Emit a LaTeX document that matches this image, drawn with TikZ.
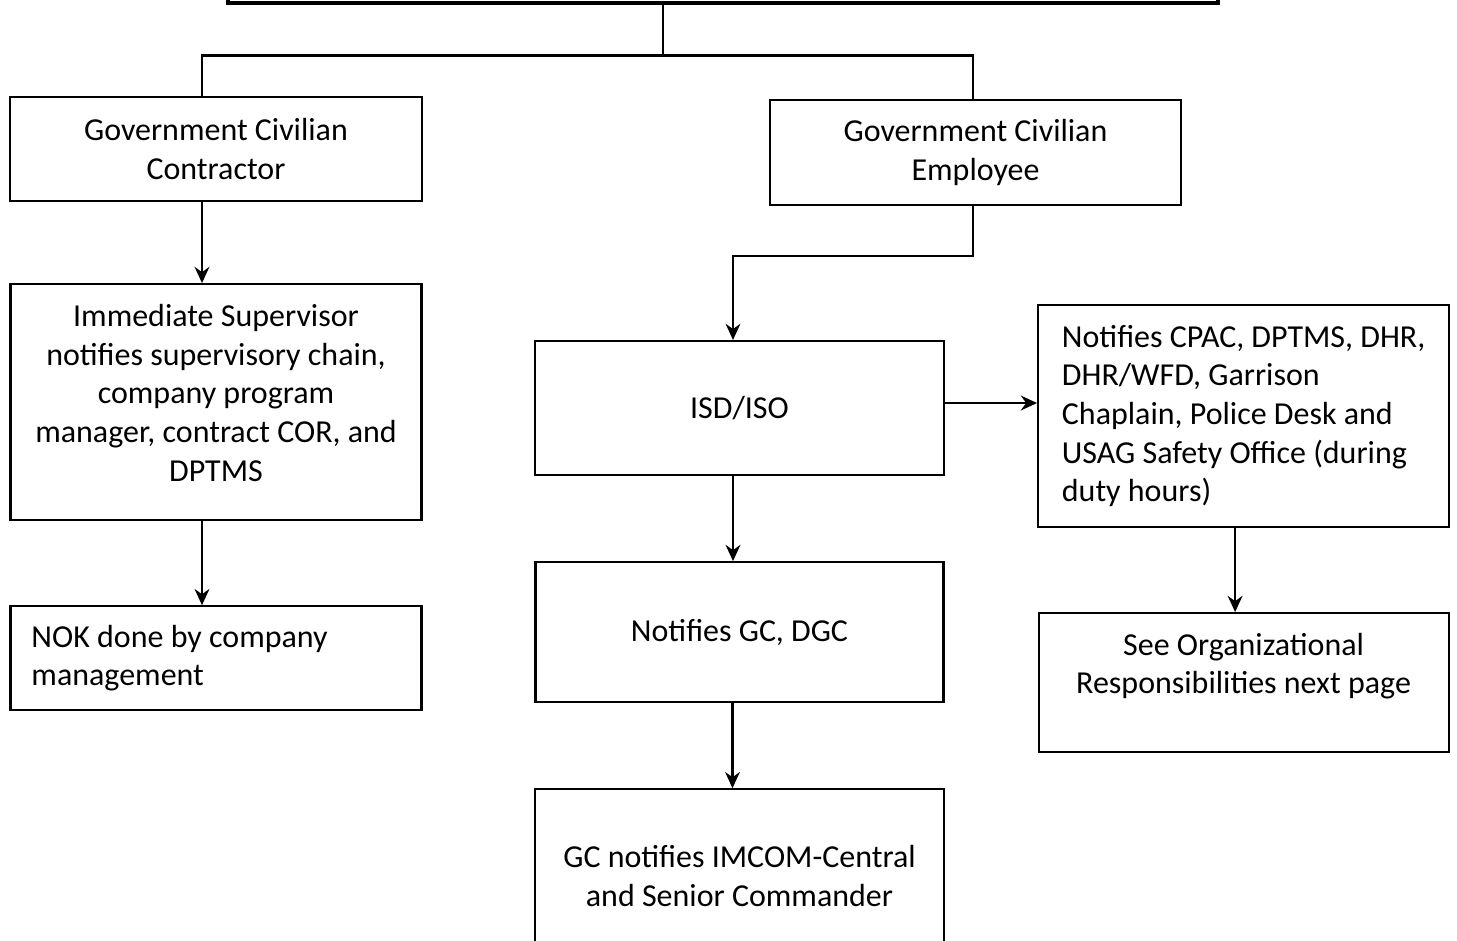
\documentclass[tikz,border=0pt]{standalone}
\usepackage{fontspec}
\setmainfont{Carlito}
\usetikzlibrary{positioning,arrows.meta}

\tikzset{
  box/.style={draw, line width=0.6pt, minimum width=4.11cm, align=center,
    inner sep=0pt, font=\fontsize{9.1}{11}\selectfont},
  flow/.style={line width=0.6pt, -{Stealth[length=4.6pt,width=4.2pt]}},
  link/.style={line width=0.6pt}
}

\begin{document}
\begin{tikzpicture}
  \useasboundingbox (0,0) rectangle (14.57,-9.40);
  \clip (0,0) rectangle (14.57,-9.40);

  \node (head) [draw, line width=1.4pt, minimum width=9.9cm, minimum height=1cm] at (7.23,0.47) {};

  % contractor branch
  \node (gcc) [box, minimum width=4.12cm, minimum height=1.04cm] at (2.16,-1.49) {Government Civilian\\Contractor};
  \node (imsup) [box, minimum height=2.36cm, below=0.81cm of gcc] {Immediate Supervisor\\notifies supervisory chain,\\company program\\manager, contract COR, and\\DPTMS\\[-0.2cm]\mbox{}};
  \node (nok) [box, align=flush left, text width=3.69cm, inner xsep=0.21cm, minimum height=1.04cm, below=0.84cm of imsup] {NOK done by company\\management};

  % employee branch
  \node (gce) [box, minimum height=1.05cm] at (9.755,-1.525) {Government Civilian\\Employee};
  \node (isd) [box, minimum width=4.09cm, minimum height=1.34cm] at (7.395,-4.08) {ISD/ISO};
  \node (ngc) [box, minimum width=4.08cm, minimum height=1.40cm, below=0.85cm of isd] {Notifies GC, DGC};
  \node (imcom) [box, minimum width=4.09cm, minimum height=1.74cm, below=0.85cm of ngc] {GC notifies IMCOM-Central\\and Senior Commander};
  \node (cpac) [box, align=left, inner xsep=0.215cm, minimum height=2.22cm, right=0.92cm of isd, yshift=-0.08cm] {Notifies CPAC, DPTMS, DHR,\\DHR/WFD, Garrison\\Chaplain, Police Desk and\\USAG Safety Office (during\\duty hours)};
  \node (seeorg) [box, minimum width=4.10cm, minimum height=1.39cm, below=0.84cm of cpac] {See Organizational\\Responsibilities next page\\\mbox{}};

  % connectors
  \draw[link] ([xshift=-0.6cm]head.south) -- ++(0,-0.5) coordinate (fork);
  \draw[link] ([xshift=-0.14cm]gcc.north) |- (fork) -| ([xshift=-0.025cm]gce.north);
  \draw[flow] ([xshift=-0.14cm]gcc.south) -- ([xshift=-0.14cm]gcc.south |- imsup.north);
  \draw[flow] ([xshift=-0.14cm]imsup.south) -- ([xshift=-0.14cm]imsup.south |- nok.north);
  \draw[flow] ([xshift=-0.025cm]gce.south) -- ++(0,-0.5) -| ([xshift=-0.065cm]isd.north);
  \draw[flow] ([yshift=0.05cm]isd.east) -- ([yshift=0.05cm]isd.east -| cpac.west);
  \draw[flow] ([xshift=-0.065cm]isd.south) -- ([xshift=-0.065cm]isd.south |- ngc.north);
  \draw[flow] ([xshift=-0.07cm]ngc.south) -- ([xshift=-0.07cm]ngc.south |- imcom.north);
  \draw[flow] ([xshift=-0.085cm]cpac.south) -- ([xshift=-0.085cm]cpac.south |- seeorg.north);
\end{tikzpicture}
\end{document}
